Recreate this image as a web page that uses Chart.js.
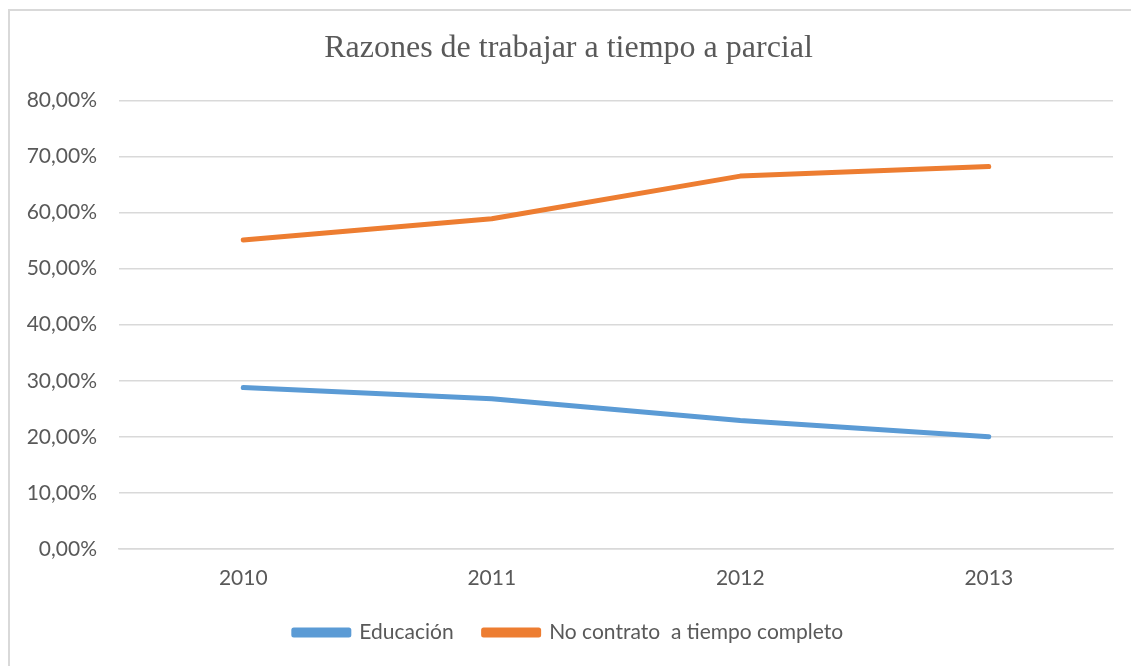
<!DOCTYPE html>
<html>
<head>
<meta charset="utf-8">
<script src="https://cdn.jsdelivr.net/npm/chart.js@4.4.0/dist/chart.umd.min.js"></script>
<style>
  html, body { margin: 0; padding: 0; background: #fff; overflow: hidden; }
  #marco {
    position: absolute; left: 8px; top: 9px; width: 1200px; height: 700px;
    border-left: 2px solid #d9d9d9; border-top: 2px solid #d9d9d9;
  }
  #grafico { position: absolute; left: 0; top: 0; }
</style>
</head>
<body>
<div id="marco"></div>
<canvas id="grafico" width="1131" height="666"></canvas>
<script>
// datos de la grafica
const anios = ['2010', '2011', '2012', '2013']
const educacion = [28.8, 26.8, 22.9, 20.0]
const noContrato = [55.1, 58.9, 66.5, 68.2]
const etiquetasY = ['0,00%', '10,00%', '20,00%', '30,00%', '40,00%', '50,00%', '60,00%', '70,00%', '80,00%']

const gris = '#595959'
const fuente = 'Lato, "Open Sans", sans-serif'

const ctx = document.getElementById('grafico').getContext('2d')

const config = {
    type: 'line',
    data: {
        labels: anios,
        datasets: [{
            label: 'Educación',
            data: educacion,
            borderColor: '#5b9bd5',
            backgroundColor: '#5b9bd5',
            borderWidth: 5,
            borderCapStyle: 'round',
            borderJoinStyle: 'round',
            pointRadius: 0,
            tension: 0
        }, {
            label: 'No contrato  a tiempo completo',
            data: noContrato,
            borderColor: '#ed7d31',
            backgroundColor: '#ed7d31',
            borderWidth: 5,
            borderCapStyle: 'round',
            borderJoinStyle: 'round',
            pointRadius: 0,
            tension: 0
        }]
    },
    options: {
        responsive: false,
        animation: false,
        layout: { padding: { left: 24, right: 18, top: 10, bottom: 13 } },
        plugins: {
            title: {
                display: true,
                text: 'Razones de trabajar a tiempo a parcial',
                color: gris,
                font: { family: '"Liberation Serif", "Times New Roman", serif', size: 32, weight: 'normal', lineHeight: 1.2 },
                padding: { top: 19, bottom: 33 }
            },
            legend: {
                position: 'bottom',
                labels: {
                    color: gris,
                    font: { family: fuente, size: 21 },
                    boxWidth: 55,
                    boxHeight: 5,
                    padding: 30
                }
            },
            tooltip: { enabled: false }
        },
        scales: {
            x: {
                offset: true,
                grid: { display: false, drawTicks: false },
                border: { display: true, color: '#d9d9d9', width: 1.5 },
                ticks: { color: gris, font: { family: fuente, size: 21 }, padding: 17 },
                afterFit: (scale) => { scale.height = 43 }
            },
            y: {
                min: 0,
                max: 80,
                grid: { color: '#d9d9d9', lineWidth: 1.5, drawTicks: false },
                border: { display: false },
                ticks: {
                    stepSize: 10,
                    color: gris,
                    font: { family: fuente, size: 21 },
                    padding: 22,
                    callback: (v) => etiquetasY[Math.round(v / 10)]
                },
                afterFit: (scale) => { scale.width = 95 }
            }
        }
    }
}

const chart = new Chart(ctx, config)
</script>
</body>
</html>
